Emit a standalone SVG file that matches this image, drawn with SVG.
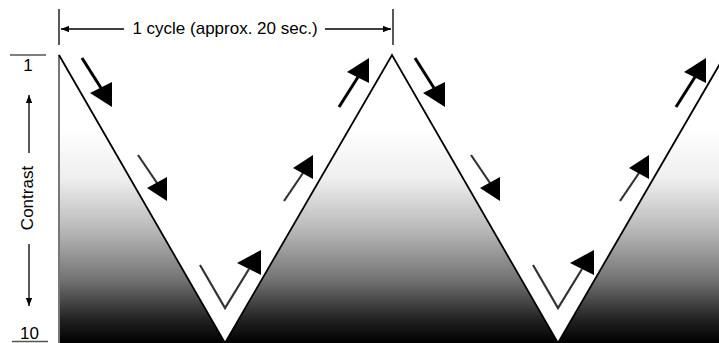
<svg xmlns="http://www.w3.org/2000/svg" width="719" height="343" viewBox="0 0 719 343">
<defs>
<linearGradient id="shade" gradientUnits="userSpaceOnUse" x1="0" y1="130" x2="0" y2="343">
<stop offset="0" stop-color="#ffffff"/>
<stop offset="0.23" stop-color="#eeeeee"/>
<stop offset="0.47" stop-color="#b8b8b8"/>
<stop offset="0.70" stop-color="#747474"/>
<stop offset="0.89" stop-color="#222222"/>
<stop offset="1" stop-color="#000000"/>
</linearGradient>
<marker id="dimHead" viewBox="0 0 10 8" refX="10" refY="4" markerWidth="8" markerHeight="6.4" markerUnits="userSpaceOnUse" orient="auto">
<path d="M0,0 L10,4 L0,8 Z" fill="#000"/>
</marker>
</defs>
<style>
.lbl{font-family:"Liberation Sans",Arial,sans-serif;font-size:17px;fill:#000}
.thin{stroke:#000;stroke-width:1.3;fill:none}
.gray{stroke:#555;stroke-width:1.6;fill:none}
.big{stroke:#000;stroke-width:3;fill:none}
.mid{stroke:#333;stroke-width:2.2;fill:none}
.head{fill:#000}
.wave{stroke:#000;stroke-width:1.8;fill:none;stroke-linejoin:miter}
</style>

<g id="chart">
<polygon points="59,55 225,343 392,55 558,343 725,55 725,343 59,343" fill="url(#shade)"/>
<line x1="59" y1="55" x2="59" y2="343" stroke="#777" stroke-width="2"/>
<polyline class="wave" points="59,55 225,343 392,55 558,343 725,55"/>
</g>

<g id="cycle-dimension">
<line class="thin" x1="59" y1="9" x2="59" y2="45"/>
<line class="thin" x1="393" y1="9" x2="393" y2="45"/>
<line class="thin" x1="124" y1="29" x2="61" y2="29" marker-end="url(#dimHead)"/>
<line class="thin" x1="325" y1="29" x2="391" y2="29" marker-end="url(#dimHead)"/>
<text class="lbl" x="225" y="34" text-anchor="middle">1 cycle (approx. 20 sec.)</text>
</g>

<g id="contrast-axis">
<line class="gray" x1="10" y1="55" x2="46" y2="55"/>
<text class="lbl" x="28" y="70.5" text-anchor="middle">1</text>
<line class="thin" x1="29" y1="153" x2="29" y2="95" marker-end="url(#dimHead)"/>
<text class="lbl" transform="translate(33,198) rotate(-90)" text-anchor="middle">Contrast</text>
<line class="thin" x1="29" y1="244" x2="29" y2="306" marker-end="url(#dimHead)"/>
<text class="lbl" x="29.5" y="339" text-anchor="middle">10</text>
<line class="gray" x1="12" y1="341.5" x2="48" y2="341.5"/>
</g>

<g id="arrows">
<line class="big" x1="82" y1="58" x2="101" y2="88"/>
<polygon class="head" points="90,93 112,82 112,107"/>
<line class="big" x1="339" y1="107" x2="358" y2="77"/>
<polygon class="head" points="347,72 369,83 369,58"/>
<line class="big" x1="415" y1="58" x2="434" y2="88"/>
<polygon class="head" points="423,93 445,82 445,107"/>
<line class="big" x1="676" y1="107" x2="695" y2="77"/>
<polygon class="head" points="684,72 706,83 706,58"/>
<line class="mid" x1="138" y1="155" x2="157" y2="183"/>
<polygon class="head" points="147,188 167,177 167,201"/>
<line class="mid" x1="284" y1="201" x2="303" y2="173"/>
<polygon class="head" points="293,168 313,179 313,155"/>
<line class="mid" x1="471" y1="155" x2="490" y2="183"/>
<polygon class="head" points="480,188 500,177 500,201"/>
<line class="mid" x1="620" y1="201" x2="639" y2="173"/>
<polygon class="head" points="629,168 649,179 649,155"/>
<polyline class="mid" points="200,265 225,308 249,269"/>
<polygon class="head" points="237,263 261,250 261,275"/>
<polyline class="mid" points="533,265 558,308 582,269"/>
<polygon class="head" points="570,263 594,250 594,275"/>
</g>
</svg>
